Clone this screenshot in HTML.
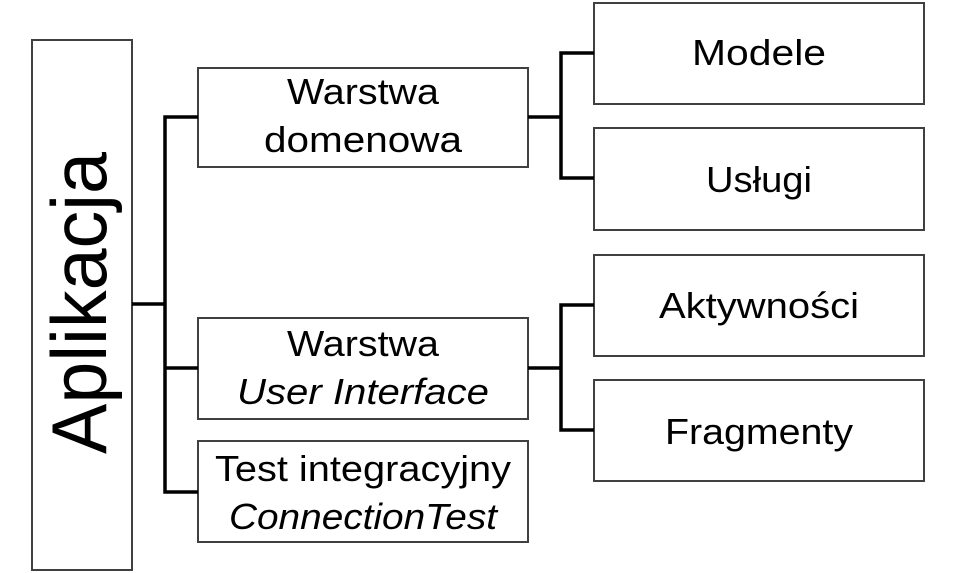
<!DOCTYPE html>
<html><head><meta charset="utf-8"><style>
html,body{margin:0;padding:0;background:#fff;width:954px;height:573px;overflow:hidden}
text{font-family:"Liberation Sans",sans-serif;font-size:36px;fill:#000}
</style></head><body>
<svg width="954" height="573" viewBox="0 0 954 573" xmlns="http://www.w3.org/2000/svg">
<g fill="#fff" stroke="#404040" stroke-width="2">
<rect x="32" y="40" width="100" height="530"/>
<rect x="198" y="68" width="330" height="99"/>
<rect x="198" y="318" width="330" height="101"/>
<rect x="198" y="441" width="330" height="101"/>
<rect x="594" y="3" width="330" height="101"/>
<rect x="594" y="128" width="330" height="102"/>
<rect x="594" y="255" width="330" height="101"/>
<rect x="594" y="380" width="330" height="101"/>
</g>
<g fill="none" stroke="#000" stroke-width="3.5">
<path d="M132 304H165M198 117H165V492H198M165 368H198"/>
<path d="M528 117H561M594 53H561V178H594"/>
<path d="M528 368H561M594 305H561V430H594"/>
</g>
<g text-anchor="middle">
<text transform="translate(106 303) rotate(-90)" style="font-size:78px" text-anchor="middle" textLength="302" lengthAdjust="spacingAndGlyphs">Aplikacja</text>
<text x="363" y="104" textLength="152" lengthAdjust="spacingAndGlyphs">Warstwa</text>
<text x="363" y="152" textLength="198" lengthAdjust="spacingAndGlyphs">domenowa</text>
<text x="363" y="356" textLength="152" lengthAdjust="spacingAndGlyphs">Warstwa</text>
<text x="363" y="404" font-style="italic" textLength="252" lengthAdjust="spacingAndGlyphs">User Interface</text>
<text x="363" y="481" textLength="296" lengthAdjust="spacingAndGlyphs">Test integracyjny</text>
<text x="363" y="529" font-style="italic" textLength="268" lengthAdjust="spacingAndGlyphs">ConnectionTest</text>
<text x="759" y="65" textLength="134" lengthAdjust="spacingAndGlyphs">Modele</text>
<text x="759" y="192" textLength="106" lengthAdjust="spacingAndGlyphs">Usługi</text>
<text x="759" y="318" textLength="200" lengthAdjust="spacingAndGlyphs">Aktywności</text>
<text x="759" y="444" textLength="188" lengthAdjust="spacingAndGlyphs">Fragmenty</text>
</g>
</svg>
</body></html>
